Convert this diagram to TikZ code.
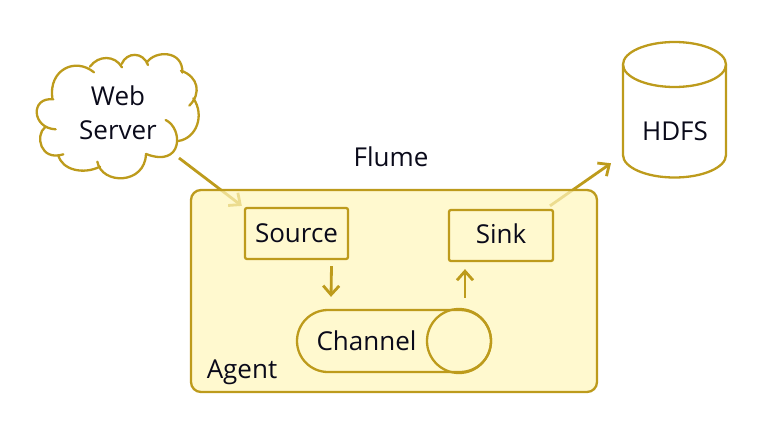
\documentclass[tikz,border=0pt]{standalone}
\usepackage{fontspec}
\setmainfont{Open Sans}
\usetikzlibrary{arrows.meta,backgrounds,calc}
\definecolor{gold}{HTML}{BD9B1C}
\definecolor{paleyellow}{HTML}{FFF6BC}
\definecolor{inktext}{HTML}{0A0A1A}
\tikzset{
  line/.style={draw=gold,line width=2.3pt},
  label/.style={font=\fontsize{26}{34}\selectfont,text=inktext,inner sep=0pt,align=center},
  flow/.style={draw=gold,line width=2.8pt,-{Straight Barb[length=9pt,width=16pt,line width=2.8pt]}},
  box/.style={line,rounded corners=2pt,fill=none,minimum width=104pt,minimum height=51pt,inner sep=0pt}
}
\begin{document}
\begin{tikzpicture}[x=1pt,y=-1pt]
\useasboundingbox (0,0) rectangle (772,423);
% cloud outline, zoom coordinates
\begin{scope}[shift={(20,40)},x=0.3333pt,y=-0.3333pt,line,line cap=round]
\draw (97,175) .. controls (85,90) and (165,50) .. (222,97);
\draw (210,80) .. controls (235,45) and (285,45) .. (306,82);
\draw (305,72) .. controls (320,35) and (370,35) .. (384,75);
\draw (380,68) .. controls (405,30) and (490,30) .. (487,98);
\draw (483,92) .. controls (535,110) and (545,160) .. (508,197);
\draw (520,175) .. controls (555,225) and (530,295) .. (475,303);
\draw (437,240) .. controls (490,265) and (490,385) .. (378,342);
\draw (378,342) .. controls (375,435) and (245,435) .. (232,365);
\draw (240,380) .. controls (190,405) and (125,390) .. (115,345);
\draw (130,343) .. controls (60,365) and (45,285) .. (75,262);
\draw (107,268) .. controls (35,265) and (30,170) .. (100,178);
\end{scope}
\node[label] (web) at (118,113) {Web\\Server};
\node[label] (flume) at (391,157) {Flume};
\node[box,minimum width=103pt,minimum height=51pt] (source) at (296.5,233.5) {};
\node[label] (sourcetext) at (296.5,233.5) {Source};
\node[box,minimum width=104pt,minimum height=51pt] (sink) at (501,235.5) {};
\node[label] (sinktext) at (501,233.5) {Sink};
% channel
\node[line,rounded corners=31pt,minimum width=194pt,minimum height=62pt,inner sep=0pt] (channel) at (394,341) {};
\node[line,circle,minimum size=64pt,inner sep=0pt] (cap) at (459,341) {};
\node[label] (channeltext) at (366.5,341) {Channel};
\node[label] (agenttext) at (242,372) {Agent};
% cylinder
\draw[line] (623,64.5) arc[start angle=180,end angle=-180,x radius=51.5,y radius=-22.5];
\draw[line] (623,64.5) -- (623,155) arc[start angle=180,end angle=360,x radius=51.5,y radius=-22.5] -- (726,64.5);
\node[label] (hdfs) at (675,131) {HDFS};
% inner connectors
\draw[flow] ([shift={(35,6)}]source.south) -- ([shift={(-63,-12)}]channel.north);
\draw[flow] ([shift={(71,-11)}]channel.north) -- ([shift={(-36,7)}]sink.south);
\begin{pgfonlayer}{background}
\draw[flow] ([shift={(61,45)}]web.center) -- ([shift={(-2,-1)}]source.north west);
\draw[flow] ([shift={(49,-3)}]sink.north) -- ([shift={(-64,42)}]hdfs.north);
\node[fill=paleyellow,fill opacity=.72,draw=none,rounded corners=10pt,minimum width=406pt,minimum height=202pt,inner sep=0pt] (agentfill) at (394,291) {};
\node[line,rounded corners=10pt,minimum width=406pt,minimum height=202pt,inner sep=0pt] (agent) at (394,291) {};
\end{pgfonlayer}
\end{tikzpicture}
\end{document}
